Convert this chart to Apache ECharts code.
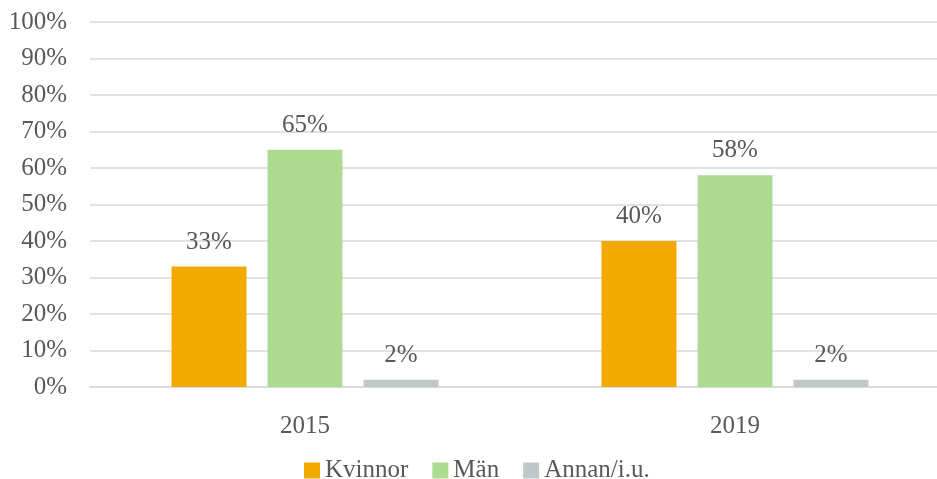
<!DOCTYPE html>
<html>
<head>
<meta charset="utf-8">
<script src="https://cdn.jsdelivr.net/npm/echarts@6/dist/echarts.min.js"></script>
<style>
  html, body { margin: 0; padding: 0; background: #fff; }
  #chart { width: 937px; height: 479px; }
</style>
</head>
<body>
<div id="chart"></div>
<script>
// years on the x axis
const years = ['2015', '2019']

// share per gender (%)
const kvinnor = [33, 40]
const man = [65, 58]
const annan = [2, 2]

const seriesNames = ['Kvinnor', 'Män', 'Annan/i.u.']
const colors = ['#F2A900', '#ADDB8F', '#C1C6C8']

const font = 'Liberation Serif, Times New Roman, serif'
const textColor = '#595959'

const chart = echarts.init(document.getElementById('chart'))

function barSeries(name, data, color) {
  return {
    name,
    type: 'bar',
    data,
    barWidth: 75,
    barGap: '28%',
    itemStyle: { color },
    label: {
      show: true,
      position: 'top',
      distance: 12,
      formatter: '{c}%',
      color: textColor,
      fontFamily: font,
      fontSize: 25
    }
  }
}

chart.setOption({
  animation: false,
  // grid runs past the right edge of the canvas, as in the source
  grid: { left: 90, top: 22, right: -13, bottom: 92, outerBoundsMode: 'none' },
  legend: {
    data: seriesNames,
    left: 304,
    top: 458,
    padding: 0,
    itemWidth: 16,
    itemHeight: 16,
    itemGap: 24,
    icon: 'rect',
    textStyle: { color: textColor, fontFamily: font, fontSize: 25 }
  },
  xAxis: {
    type: 'category',
    data: years,
    axisLine: { lineStyle: { color: '#D9D9D9', width: 1.5 } },
    axisTick: { show: false },
    axisLabel: { color: textColor, fontFamily: font, fontSize: 25, margin: 27 }
  },
  yAxis: {
    type: 'value',
    min: 0,
    max: 100,
    interval: 10,
    axisLine: { show: false },
    axisTick: { show: false },
    axisLabel: { formatter: '{value}%', color: textColor, fontFamily: font, fontSize: 25, margin: 23 },
    splitLine: { lineStyle: { color: '#D9D9D9', width: 1.5 } }
  },
  series: [
    barSeries(seriesNames[0], kvinnor, colors[0]),
    barSeries(seriesNames[1], man, colors[1]),
    barSeries(seriesNames[2], annan, colors[2])
  ]
})
</script>
</body>
</html>
